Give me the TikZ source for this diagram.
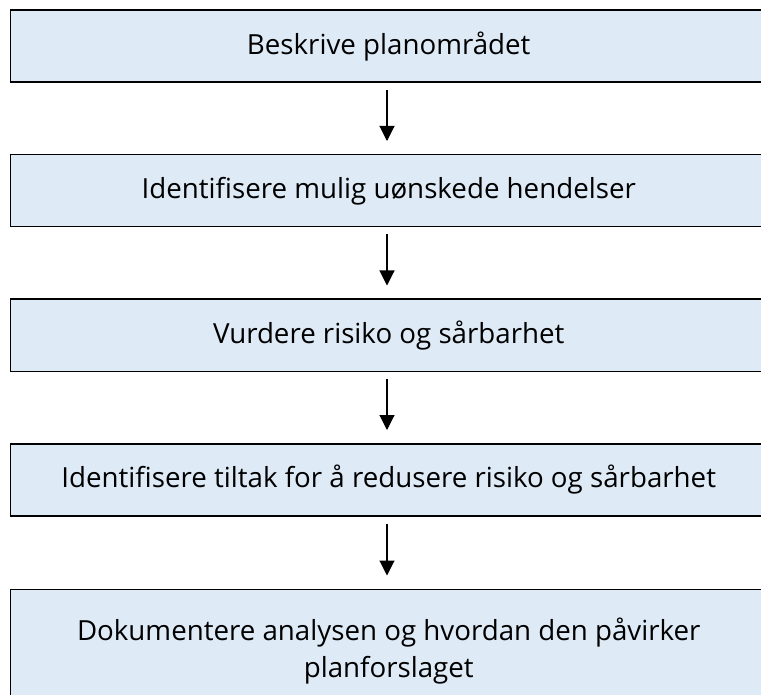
\documentclass[tikz,border=0pt]{standalone}
\usepackage{fontspec}
\setmainfont{Open Sans}
\usetikzlibrary{arrows.meta}
\definecolor{boxfill}{HTML}{DEEAF6}
\tikzset{
  stepbox/.style={draw=black, line width=1.5pt, fill=boxfill, minimum width=756.5pt,
    minimum height=72pt, inner sep=0pt, align=center,
    font=\fontsize{27.7}{37.5}\selectfont},
  flowarrow/.style={draw=black, line width=1.1pt, -{Triangle[width=15pt,length=15pt]}}
}
\begin{document}
\begin{tikzpicture}[x=1pt,y=-1pt]
\useasboundingbox (0,0) rectangle (761,695);
\clip (0,0) rectangle (761,695);
\node[stepbox] (b1) at (388.75,46.25) {Beskrive planområdet};
\node[stepbox] (b2) at (388.75,190.75) {Identifisere mulig uønskede hendelser};
\node[stepbox] (b3) at (388.75,335.25) {Vurdere risiko og sårbarhet};
\node[stepbox] (b4) at (388.75,479.75) {Identifisere tiltak for å redusere risiko og sårbarhet};
\node[stepbox, minimum height=124pt, anchor=north] (b5) at (388.75,588.5) {Dokumentere analysen og hvordan den påvirker\\planforslaget};
\draw[flowarrow] ([xshift=-1.75pt,yshift=-7pt]b1.south) -- ([xshift=-1.75pt,yshift=13pt]b2.north);
\draw[flowarrow] ([xshift=-1.75pt,yshift=-7pt]b2.south) -- ([xshift=-1.75pt,yshift=13pt]b3.north);
\draw[flowarrow] ([xshift=-1.75pt,yshift=-7pt]b3.south) -- ([xshift=-1.75pt,yshift=13pt]b4.north);
\draw[flowarrow] ([xshift=-1.75pt,yshift=-7pt]b4.south) -- ([xshift=-1.75pt,yshift=13pt]b5.north);
\end{tikzpicture}
\end{document}
